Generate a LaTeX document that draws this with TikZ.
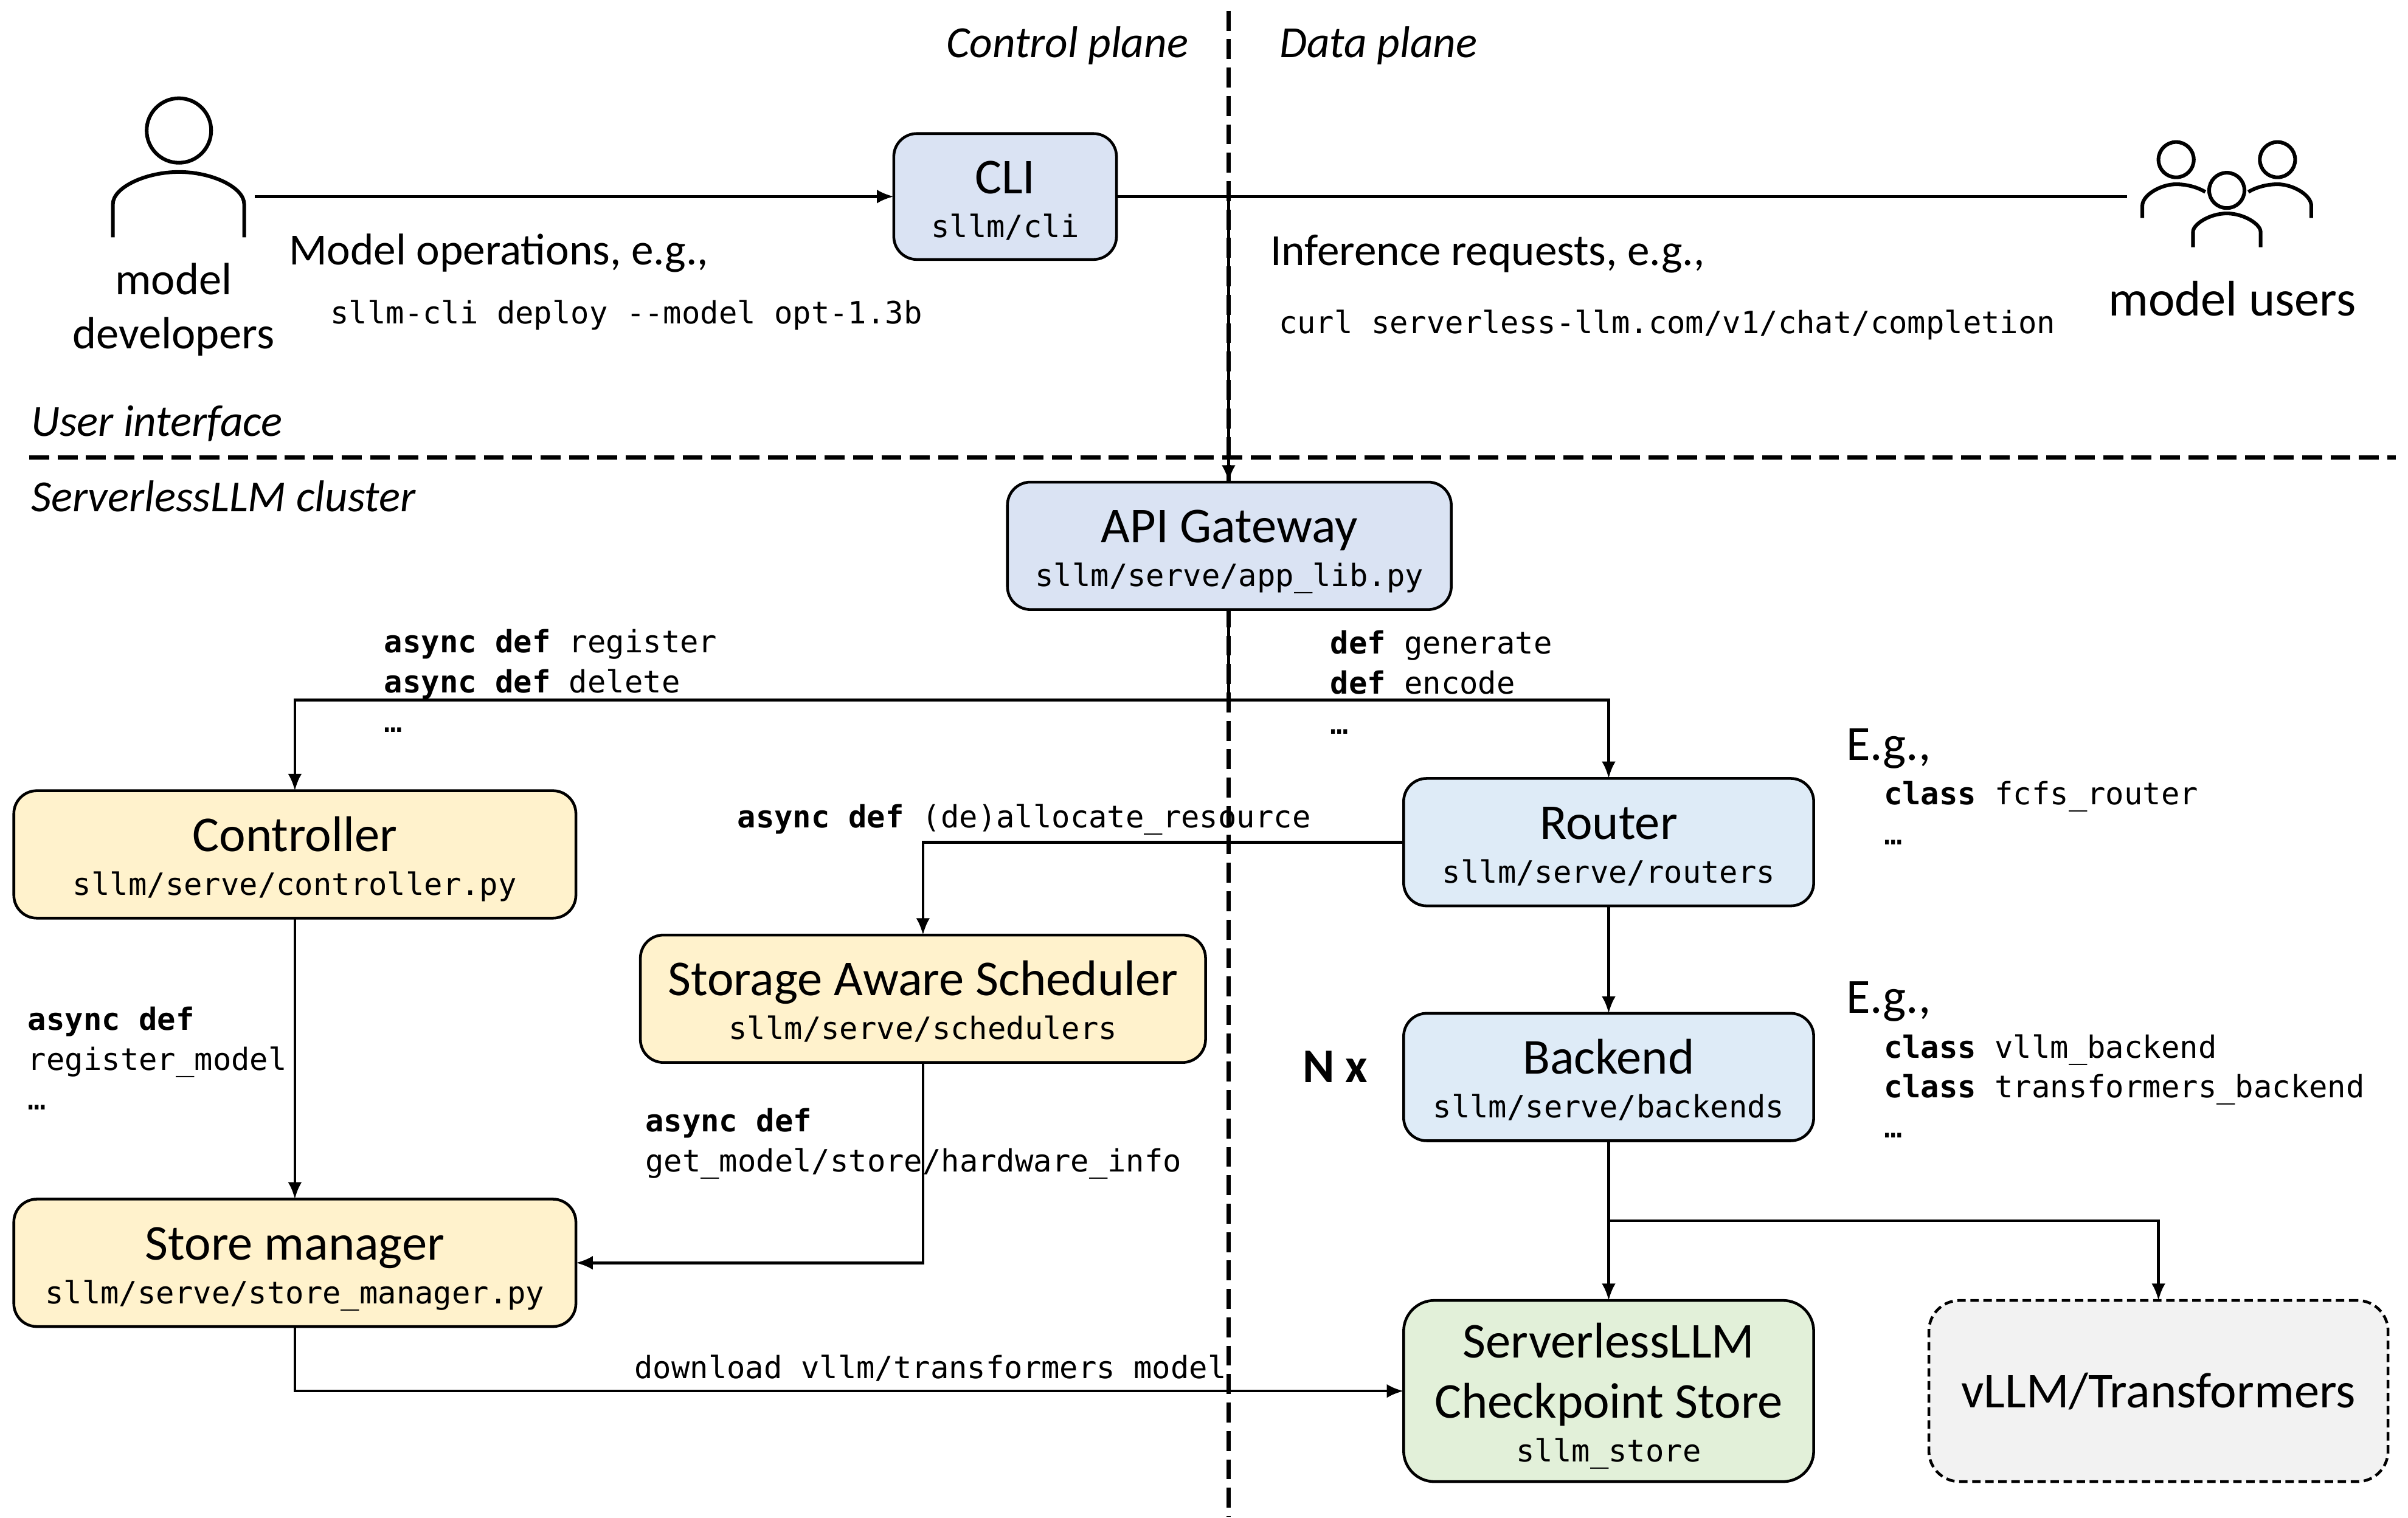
\documentclass[tikz,border=0pt]{standalone}
\usepackage{fontspec}
\setmainfont{Carlito}
\setmonofont{DejaVu Sans Mono}
\usetikzlibrary{arrows.meta}
\definecolor{cblue}{HTML}{DAE3F3}
\definecolor{lblue}{HTML}{DEEBF7}
\definecolor{cyellow}{HTML}{FFF2CC}
\definecolor{cgreen}{HTML}{E2F0D9}
\definecolor{cgray}{HTML}{F2F2F2}
\newcommand{\ttl}[1]{{\fontsize{32.7}{33}\selectfont\rule[-8pt]{0pt}{38pt}#1}}
\newcommand{\cod}[1]{{\fontsize{20}{20}\selectfont\ttfamily\rule[-5.5pt]{0pt}{25pt}#1}}
\newcommand{\kw}[1]{{\bfseries #1}}
\tikzset{
  boxbase/.style={draw=black,line width=1.8pt,rounded corners=15pt,align=center,inner sep=0pt,outer sep=0pt},
  conn/.style={line width=1.8pt,-{Latex[length=11pt,width=9pt]}},
  plainline/.style={line width=1.8pt},
  sep/.style={line width=2.6pt,dash pattern=on 13pt off 5.5pt},
  icon/.style={line width=2.4pt},
  txt/.style={anchor=base west,inner sep=0pt,font=\fontsize{29}{29}\selectfont},
  ital/.style={txt,font=\fontsize{29}{29}\selectfont\itshape},
  code/.style={anchor=base west,inner sep=0pt,align=left,font=\fontsize{20}{26}\selectfont\ttfamily},
  ctr/.style={anchor=base,inner sep=0pt,align=center,font=\fontsize{29.5}{35}\selectfont}
}
\begin{document}
\begin{tikzpicture}[x=1pt,y=-1pt]
\useasboundingbox (0,0) rectangle (1568,988.7);
% separators
\coordinate (vtop) at (800,7);
\coordinate (vbot) at (800,988);
\coordinate (hleft) at (19,298);
\coordinate (hright) at (1560,298);
\draw[sep] (vtop) -- (vbot);
\draw[sep] (hleft) -- (hright);
% boxes
\node[boxbase,fill=cblue,minimum width=145pt,minimum height=82pt] (cli) at (654.5,128) {\ttl{CLI}\\\cod{sllm/cli}};
\node[boxbase,fill=cblue,minimum width=289pt,minimum height=83pt] (api) at (800.5,355.5) {\ttl{API Gateway}\\\cod{sllm/serve/app\_lib.py}};
\node[boxbase,fill=cyellow,minimum width=366pt,minimum height=83pt] (ctrl) at (192,556.5) {\ttl{Controller}\\\cod{sllm/serve/controller.py}};
\node[boxbase,fill=lblue,minimum width=267pt,minimum height=83pt] (router) at (1047.5,548.5) {\ttl{Router}\\\cod{sllm/serve/routers}};
\node[boxbase,fill=cyellow,minimum width=368pt,minimum height=83pt] (sched) at (601,650.5) {\ttl{Storage Aware Scheduler}\\\cod{sllm/serve/schedulers}};
\node[boxbase,fill=lblue,minimum width=267pt,minimum height=83pt] (backend) at (1047.5,701.5) {\ttl{Backend}\\\cod{sllm/serve/backends}};
\node[boxbase,fill=cyellow,minimum width=366pt,minimum height=83pt] (store) at (192,822.5) {\ttl{Store manager}\\\cod{sllm/serve/store\_manager.py}};
\node[boxbase,fill=cgreen,minimum width=267pt,minimum height=118pt,rounded corners=20pt] (ckpt) at (1047.5,906) {\ttl{ServerlessLLM}\\\ttl{Checkpoint Store}\\\cod{sllm\_store}};
\node[boxbase,fill=cgray,minimum width=299pt,minimum height=118pt,rounded corners=20pt,dash pattern=on 5.5pt off 3pt] (vllm) at (1405.5,906) {\ttl{vLLM/Transformers}};
% people
\draw[icon] (116.5,85) circle (21);
\draw[icon] (73.5,154.6) -- (73.5,133) .. controls (73.5,122) and (95,112) .. (116.5,112) .. controls (138,112) and (159,122) .. (159,133) -- (159,154.6);
\draw[icon] (1417,104) circle (11.5);
\draw[icon] (1483,104) circle (11.5);
\draw[icon] (1450,124) circle (11.5);
\draw[icon] (1395,142) -- (1395,134) .. controls (1395,127) and (1407,120) .. (1417,120) .. controls (1424,120) and (1431,122) .. (1436,125);
\draw[icon] (1505,142) -- (1505,134) .. controls (1505,127) and (1493,120) .. (1483,120) .. controls (1476,120) and (1469,122) .. (1464,125);
\draw[icon] (1428,161) -- (1428,151) .. controls (1428,146) and (1439,139) .. (1450,139) .. controls (1461,139) and (1472,146) .. (1472,151) -- (1472,161);
% connectors
\coordinate (devend) at (166,128);
\coordinate (userend) at (1385,128);
\coordinate (cross) at (800,128);
\coordinate (split) at (800,456);
\coordinate (bsplit) at (1047.5,795);
\draw[conn] (devend) -- (cli.west);
\draw[plainline] (cli.east) -- (userend);
\draw[conn] (cross) -- (api.north -| cross);
\draw[plainline] (api.south -| split) -- (split);
\draw[conn] (split) -| (ctrl.north);
\draw[conn] (split) -| (router.north);
\draw[conn] (router.west) -| (sched.north);
\draw[conn] (ctrl.south) -- (store.north);
\draw[conn] (sched.south) |- (store.east);
\draw[conn] (store.south) |- (ckpt.west);
\draw[conn] (router.south) -- (backend.north);
\draw[conn] (backend.south) -- (ckpt.north);
\draw[conn] (bsplit) -| (vllm.north);
% labels
\node[ital] (lcp) at (616,37.5) {Control plane};
\node[ital] (ldp) at (833,37.5) {Data plane};
\node[ital] (lui) at (20,284) {User interface};
\node[ital] (lsc) at (20,333) {ServerlessLLM cluster};
\node[ctr] (ldev) at (113,227) {model\\developers};
\node[ctr,font=\fontsize{32.6}{35}\selectfont] (lusr) at (1453.5,205.5) {model users};
\node[txt] (lmo) at (188,172.5) {Model operations, e.g.,};
\node[txt] (lir) at (827,173) {Inference requests, e.g.,};
\node[code] (c1) at (215,211) {sllm-cli deploy --model opt-1.3b};
\node[code] (c2) at (832.5,217) {curl serverless-llm.com/v1/chat/completion};
\node[code] (c3) at (250,477) {\kw{async def} register\\\kw{async def} delete\\…};
\node[code] (c4) at (866,478) {\kw{def} generate\\\kw{def} encode\\…};
\node[txt,font=\fontsize{32}{32}\selectfont] (eg1) at (1202,495) {E.g.,};
\node[code] (c5) at (1226.5,550) {\kw{class} fcfs\_router\\…};
\node[code] (c6) at (480,539) {\kw{async def} (de)allocate\_resource};
\node[code] (c7) at (18,723) {\kw{async def}\\register\_model\\…};
\node[txt,font=\fontsize{31.5}{32}\selectfont\bfseries] (nx) at (848,705) {N x};
\node[txt,font=\fontsize{32}{32}\selectfont] (eg2) at (1202,660) {E.g.,};
\node[code] (c8) at (1226.5,741) {\kw{class} vllm\_backend\\\kw{class} transformers\_backend\\…};
\node[code] (c9) at (420,763) {\kw{async def}\\get\_model/store/hardware\_info};
\node[code] (c10) at (413,898) {download vllm/transformers model};
\end{tikzpicture}
\end{document}
